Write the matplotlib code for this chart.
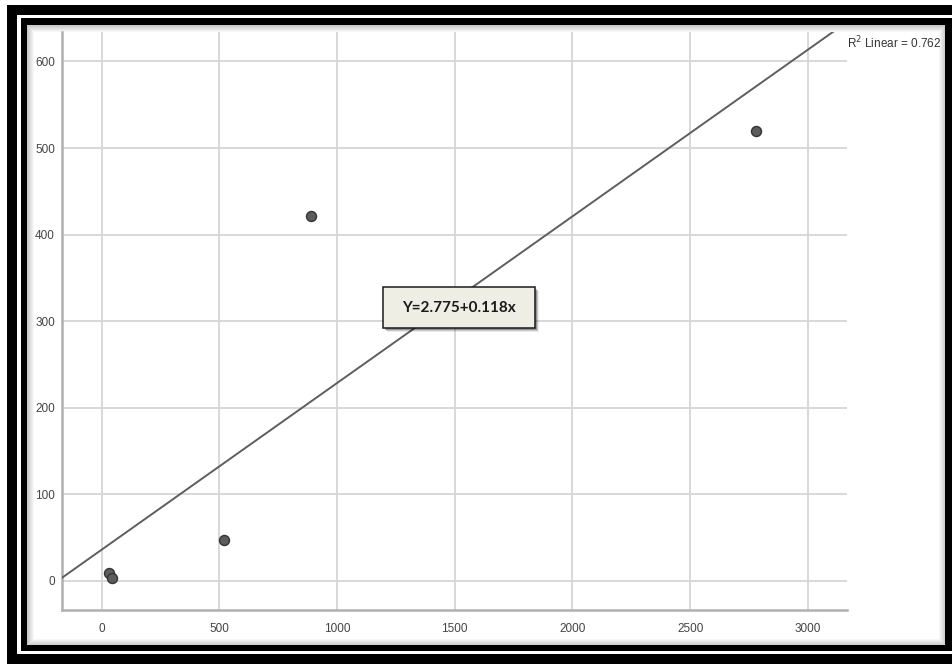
import numpy as np
import matplotlib
matplotlib.use("Agg")
import matplotlib.pyplot as plt
from matplotlib.patches import Rectangle

# ---- data ----
x_vals = [30, 45, 522, 888, 2778]
y_vals = [9, 3, 47, 422, 520]
x_ticks = [0, 500, 1000, 1500, 2000, 2500, 3000]
y_ticks = [0, 100, 200, 300, 400, 500, 600]
equation_label = "Y=2.775+0.118x"
r2_label = r"R$^2$ Linear = 0.762"

W, H = 952, 664
fig = plt.figure(figsize=(W / 100, H / 100), dpi=100)
fig.patch.set_facecolor("white")


def prect(x0, y0, x1, y1, **kw):
    r = Rectangle((x0 / W, 1 - y1 / H), (x1 - x0) / W, (y1 - y0) / H,
                  transform=fig.transFigure, **kw)
    fig.patches.append(r)
    return r


# double black frame
prect(7, 5, 960, 670, facecolor="black", edgecolor="none", zorder=-10)
prect(17, 15, 960, 654, facecolor="white", edgecolor="none", zorder=-9)
prect(21, 18, 960, 651, facecolor="black", edgecolor="none", zorder=-8)
prect(27, 25, 945, 645, facecolor="white", edgecolor="none", zorder=-7)
# soft inner shadow
for i in range(7):
    prect(27 + i, 25 + i, 945 - i, 645 - i, facecolor="none",
          edgecolor=(0, 0, 0, 0.22 * (1 - i / 7)), linewidth=0.72, zorder=-6)

ax = fig.add_axes([62 / W, 1 - 610 / H, 785 / W, 578 / H])
ax.set_facecolor("none")

ax.set_xlim(-168, 3166)
ax.set_ylim(-33.5, 634)
ax.set_xticks(x_ticks)
ax.set_yticks(y_ticks)
ax.grid(True, color="#d6d6d6", linewidth=1.3, zorder=0)
ax.set_axisbelow(True)

for s in ["top", "right"]:
    ax.spines[s].set_visible(False)
for s in ["left", "bottom"]:
    ax.spines[s].set_color("#b0b0b0")
    ax.spines[s].set_linewidth(1.8)

ax.tick_params(axis="both", length=0, labelsize=8.5, labelcolor="#444444")
ax.tick_params(axis="x", pad=9)
ax.tick_params(axis="y", pad=5)
for lab in ax.get_xticklabels() + ax.get_yticklabels():
    lab.set_family("Liberation Sans")

# fit line
slope, intercept = np.polyfit(x_vals, y_vals, 1)
xl = np.array(ax.get_xlim())
ax.plot(xl, intercept + slope * xl, color="#5e5e5e", linewidth=1.4, zorder=3)

ax.scatter(x_vals, y_vals, s=52, color="#5c5c5c", edgecolors="#333333",
           linewidths=1.0, zorder=4)

# R^2 label
fig.text(847 / W, 1 - 43 / H, r2_label, fontsize=8.5, color="#333333",
         family="Liberation Sans", va="center", ha="left")

# equation box with soft shadow
for i, a in enumerate([0.25, 0.15, 0.08]):
    prect(385 + i, 289 + i, 537 + i, 330 + i, facecolor=(0, 0, 0, a),
          edgecolor="none", zorder=4)
prect(383, 287, 535, 328, facecolor="#eeeee4", edgecolor="#1a1a1a",
      linewidth=1.1, zorder=5)
fig.text(459 / W, 1 - 308 / H, equation_label, fontsize=11, fontweight="bold",
         family="Lato", color="#1a1a1a", ha="center", va="center", zorder=6)

fig.savefig("out.png", dpi=100)
